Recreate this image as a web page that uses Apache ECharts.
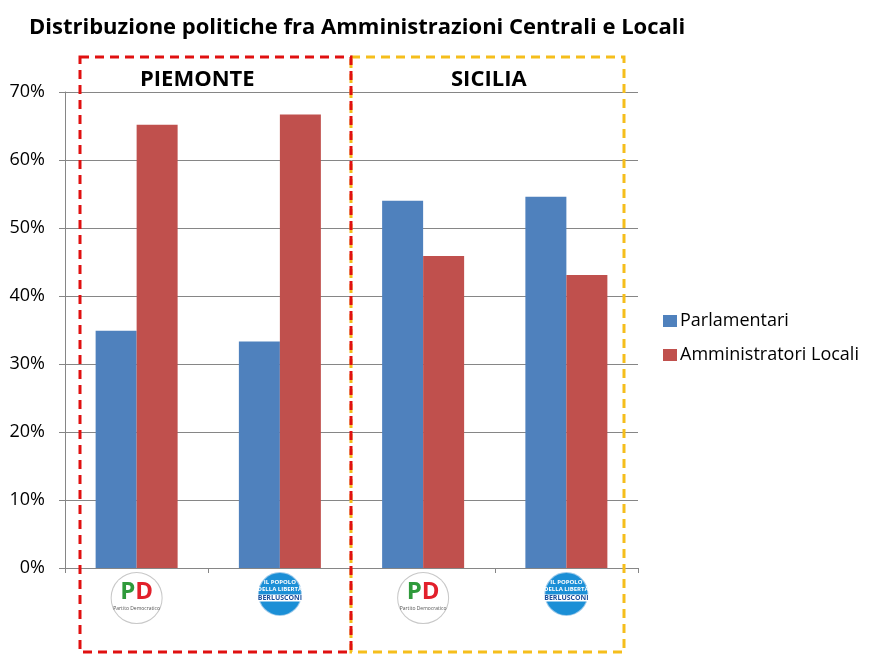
<!DOCTYPE html>
<html>
<head>
<meta charset="utf-8">
<script src="https://cdn.jsdelivr.net/npm/echarts@6/dist/echarts.min.js"></script>
<style>
  html, body { margin: 0; padding: 0; background: #fff; }
  #main { width: 879px; height: 655px; }
</style>
</head>
<body>
<div id="main"></div>
<script>
// data
var categories = ['PD Piemonte', 'PDL Piemonte', 'PD Sicilia', 'PDL Sicilia'];
var parlamentari = [34.9, 33.3, 54.0, 54.6];
var amministratori = [65.2, 66.7, 45.9, 43.1];
var yTicks = [0, 10, 20, 30, 40, 50, 60, 70];

var FONT = '"Open Sans", Lato, sans-serif';

var chart = echarts.init(document.getElementById('main'));

// logo look per party (PD = white circle, PDL = blue circle)
var pdStyle = {
  backgroundColor: '#fff', borderColor: '#c8c8c8', borderWidth: 1,
  borderRadius: 26, width: 50, height: 50, padding: [0, 0, 0, 0]
};
var pdlStyle = {
  backgroundColor: '#1b8fd6', borderColor: '#9cc9ea', borderWidth: 1,
  borderRadius: 22, width: 42, height: 42, padding: [0, 0, 0, 0]
};

var option = {
  animation: false,
  title: {
    text: 'Distribuzione politiche fra Amministrazioni Centrali e Locali',
    left: 24, top: 12,
    textStyle: { fontFamily: FONT, fontSize: 22, fontWeight: 'bold', color: '#000' }
  },
  legend: {
    orient: 'vertical',
    left: 658, top: 307,
    itemWidth: 14, itemHeight: 12, itemGap: 16,
    icon: 'rect',
    textStyle: { fontFamily: FONT, fontSize: 18, color: '#000', padding: [0, 0, 0, -2] },
    data: ['Parlamentari', 'Amministratori Locali']
  },
  grid: { left: 65, right: 241, top: 92, bottom: 87, containLabel: false },
  xAxis: {
    type: 'category',
    data: categories.map(function (c, i) {
      return { value: c, textStyle: i % 2 === 0 ? pdStyle : pdlStyle };
    }),
    axisLine: { lineStyle: { color: '#868686', width: 1 } },
    axisTick: { show: true, length: 5, lineStyle: { color: '#868686' } },
    axisLabel: {
      interval: 0,
      margin: 5,
      align: 'center',
      verticalAlign: 'top',
      formatter: function (v, i) {
        if (i % 2 === 0) {
          return '{sp|}\n{g|P}{r|D}\n{s|Partito Democratico}';
        }
        return '{sp2|}\n{w|IL POPOLO}\n{w|DELLA LIBERTÀ}\n{b|BERLUSCONI}';
      },
      rich: {
        sp: { height: 6 },
        sp2: { height: 6 },
        g: { fontFamily: FONT, fontSize: 24, fontWeight: 'bold', color: '#2f9a3b', lineHeight: 26 },
        r: { fontFamily: FONT, fontSize: 24, fontWeight: 'bold', color: '#e2202b', lineHeight: 26 },
        s: { fontFamily: FONT, fontSize: 5, color: '#555', lineHeight: 8 },
        w: { fontFamily: FONT, fontSize: 6, fontWeight: 'bold', color: '#fff', lineHeight: 7 },
        b: { fontFamily: FONT, fontSize: 7, fontWeight: 'bold', color: '#1b4f9c', backgroundColor: '#fff', lineHeight: 10, padding: [0, 1] }
      }
    }
  },
  yAxis: {
    type: 'value',
    min: yTicks[0], max: yTicks[yTicks.length - 1], interval: 10,
    axisLine: { show: true, lineStyle: { color: '#868686', width: 1 } },
    axisTick: { show: true, length: 6, lineStyle: { color: '#868686' } },
    axisLabel: {
      margin: 20,
      fontFamily: FONT, fontSize: 18, color: '#000',
      formatter: '{value}%'
    },
    splitLine: { show: true, lineStyle: { color: '#868686', width: 1 } }
  },
  series: [
    {
      name: 'Parlamentari', type: 'bar', data: parlamentari,
      barWidth: 41, barGap: '0%',
      itemStyle: { color: '#4f81bd' }
    },
    {
      name: 'Amministratori Locali', type: 'bar', data: amministratori,
      barWidth: 41, barGap: '0%',
      itemStyle: { color: '#c0504d' }
    }
  ],
  graphic: [
    {
      type: 'rect', z: 100,
      shape: { x: 80, y: 57, width: 271, height: 595 },
      style: { fill: 'none', stroke: '#e01010', lineWidth: 3, lineDash: [9, 6] }
    },
    {
      type: 'rect', z: 99,
      shape: { x: 351, y: 57, width: 273, height: 595 },
      style: { fill: 'none', stroke: '#f5be1c', lineWidth: 3, lineDash: [9, 6] }
    },
    {
      type: 'text', left: 140, top: 69, z: 101,
      style: { text: 'PIEMONTE', fontFamily: FONT, fontSize: 22, fontWeight: 'bold', fill: '#000' }
    },
    {
      type: 'text', left: 451, top: 69, z: 101,
      style: { text: 'SICILIA', fontFamily: FONT, fontSize: 22, fontWeight: 'bold', fill: '#000' }
    }
  ]
};

chart.setOption(option);
</script>
</body>
</html>
